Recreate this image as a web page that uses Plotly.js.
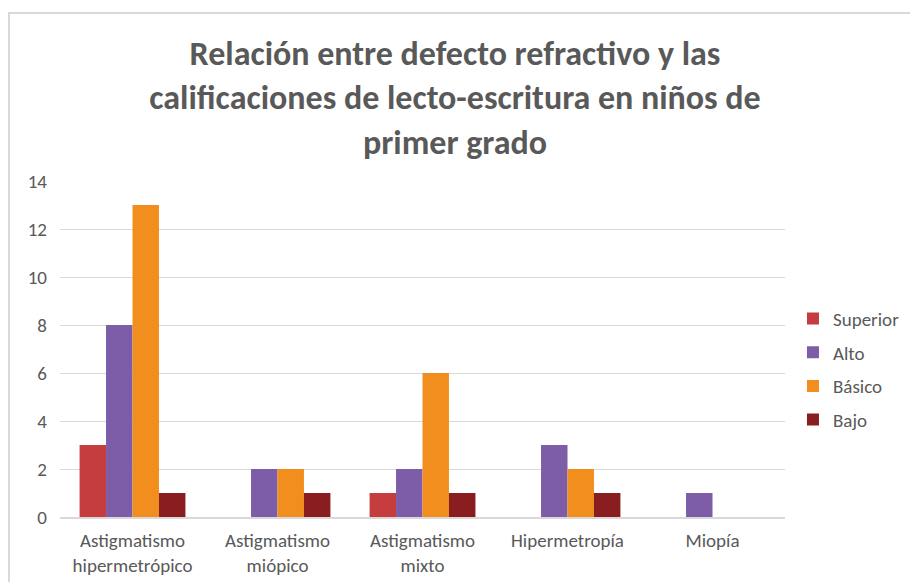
<!DOCTYPE html>
<html>
<head>
<meta charset="utf-8">
<script src="https://cdn.plot.ly/plotly-3.0.1.min.js"></script>
<style>
  html, body { margin: 0; padding: 0; background: #ffffff; }
  #wrap { position: relative; width: 910px; height: 582px; overflow: hidden; }
  #chart { position: absolute; left: 0; top: 0; width: 910px; height: 582px; }
  #frame { position: absolute; left: 8px; top: 12px; width: 910px; height: 600px;
           border-left: 2px solid #d9d9d9; border-top: 2px solid #d9d9d9; pointer-events: none; }
</style>
</head>
<body>
<div id="wrap">
  <div id="chart"></div>
  <div id="frame"></div>
</div>
<script>
const categories = ['Astigmatismo<br>hipermetrópico', 'Astigmatismo<br>miópico', 'Astigmatismo<br>mixto', 'Hipermetropía', 'Miopía'];
const seriesNames = ['Superior', 'Alto', 'Básico', 'Bajo'];
const superior = [3, 0, 1, 0, 0];
const alto = [8, 2, 2, 3, 1];
const basico = [13, 2, 6, 2, 0];
const bajo = [1, 1, 1, 1, 0];
const colors = ['#c63d40', '#7d5ca8', '#f28e1e', '#8a1d1f'];
const yTicks = [0, 2, 4, 6, 8, 10, 12, 14];

const values = [superior, alto, basico, bajo];
const traces = values.map((v, i) => ({
  type: 'bar',
  name: seriesNames[i],
  x: categories,
  y: v,
  legendgroup: 'g' + i,
  marker: { color: colors[i] },
  hoverinfo: 'x+y+name'
}));

const font = "Carlito, 'Liberation Sans Narrow', 'DejaVu Sans Condensed', 'Open Sans', sans-serif";

const layout = {
  width: 910,
  height: 582,
  margin: { l: 60, r: 125, t: 181, b: 65, autoexpand: false },
  paper_bgcolor: 'rgba(0,0,0,0)',
  plot_bgcolor: 'rgba(0,0,0,0)',
  barmode: 'group',
  bargap: 0.27,
  bargroupgap: 0,
  font: { family: font, color: '#595959', size: 19 },
  title: {
    text: '<b>Relación entre defecto refractivo y las<br>calificaciones de lecto-escritura en niños de<br>primer grado</b>',
    font: { family: font, size: 34, color: '#595959' },
    x: 0.5, xref: 'container', xanchor: 'center',
    y: 0.888, yref: 'container', yanchor: 'top'
  },
  xaxis: {
    type: 'category',
    showgrid: false,
    showline: true,
    linecolor: '#d9d9d9',
    linewidth: 1.5,
    ticks: '',
    ticklabelstandoff: 6,
    tickfont: { family: font, size: 19, color: '#595959' },
    fixedrange: true
  },
  yaxis: {
    range: [0, 14],
    tickvals: yTicks,
    ticktext: yTicks.map(String),
    showgrid: true,
    gridcolor: '#d9d9d9',
    gridwidth: 1,
    zeroline: false,
    showline: false,
    ticks: '',
    ticklabelstandoff: 12,
    tickfont: { family: font, size: 19, color: '#595959' },
    fixedrange: true
  },
  legend: {
    x: 1.011, xanchor: 'left',
    y: 0.44, yanchor: 'middle',
    traceorder: 'grouped',
    tracegroupgap: 6,
    font: { family: font, size: 19, color: '#595959' },
    itemwidth: 30
  },
  showlegend: true
};

Plotly.newPlot('chart', traces, layout, { displayModeBar: false, staticPlot: true });
</script>
</body>
</html>
